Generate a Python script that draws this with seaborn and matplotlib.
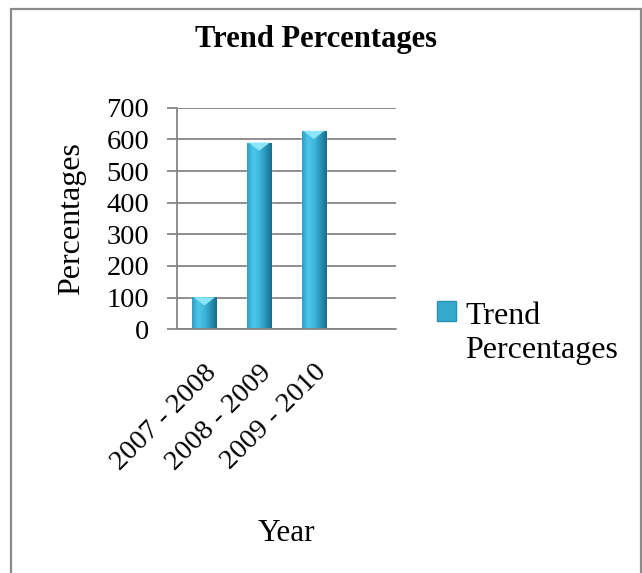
import numpy as np
import pandas as pd
import matplotlib
matplotlib.use("Agg")
import matplotlib.pyplot as plt
from matplotlib.colors import LinearSegmentedColormap
from matplotlib.patches import Rectangle, Polygon
from matplotlib.legend_handler import HandlerPatch
import seaborn as sns

# Chart data
years = ["2007 - 2008", "2008 - 2009", "2009 - 2010"]
trend_pct = [101, 590, 627]
y_ticks = [0, 100, 200, 300, 400, 500, 600, 700]
series_name = "Trend\nPercentages"

sns.set_theme(style="white")
plt.rcParams["font.family"] = ["Liberation Serif", "DejaVu Serif"]
plt.rcParams["text.color"] = "black"
plt.rcParams["axes.labelcolor"] = "black"

df = pd.DataFrame({"Year": years, "Percentages": trend_pct})

fig = plt.figure(figsize=(6.42, 5.73), dpi=100)
ax = fig.add_axes([0.2757, 0.4253, 0.3411, 0.3867])

base_color = "#35aacd"
sns.barplot(data=df, x="Year", y="Percentages", color=base_color,
            width=0.44, ax=ax, saturation=1, zorder=3)

# Shaded cylinder-like fill for every bar plus a light bevel on top
shade = LinearSegmentedColormap.from_list(
    "bar_shade", ["#2d9fc5", "#4ec6e8", "#3db7dc", "#2a93b6", "#1a6c88"])
grad = np.linspace(0, 1, 256).reshape(1, -1)
for patch in ax.patches:
    x0, y0 = patch.get_x(), patch.get_y()
    w, h = patch.get_width(), patch.get_height()
    im = ax.imshow(grad, cmap=shade, aspect="auto",
                   extent=(x0, x0 + w, y0, y0 + h), zorder=3.5)
    im.set_clip_path(patch)
    bevel = Polygon([(x0 + w * 0.06, y0 + h), (x0 + w * 0.94, y0 + h),
                     (x0 + w * 0.5, y0 + h - 26)],
                    closed=True, facecolor="#8be6f8", edgecolor="none",
                    zorder=4)
    ax.add_patch(bevel)

ax.set_xlim(-0.5, 3.5)
ax.set_ylim(0, 700)
ax.set_yticks(y_ticks)
ax.set_yticklabels([str(v) for v in y_ticks], fontsize=20.5)
ax.set_xticks(range(len(years)))
ax.set_xticklabels(years, fontsize=20.5, rotation=45, ha="right",
                   rotation_mode="anchor")

grid_color = "#868686"
ax.yaxis.grid(True, color=grid_color, linewidth=1.3, zorder=0)
ax.xaxis.grid(False)
for side in ["top", "right", "bottom"]:
    ax.spines[side].set_visible(False)
ax.spines["left"].set_color(grid_color)
ax.spines["left"].set_linewidth(1.3)
ax.tick_params(axis="y", which="major", left=True, length=7,
               width=1.3, color=grid_color, pad=13, labelcolor="black")
ax.tick_params(axis="x", bottom=False, pad=16, labelcolor="black")
ax.axhline(0, color=grid_color, linewidth=1.3, zorder=5, clip_on=False)

ax.set_ylabel("Percentages", fontsize=23, labelpad=15)
ax.set_xlabel("Year", fontsize=22.5, labelpad=32)

fig.text(0.492, 0.918, "Trend Percentages", fontsize=22,
         fontweight="bold", ha="center", va="baseline")


# Legend: swatch sits beside the first line of the two-line label
def top_swatch(legend, orig_handle, xdescent, ydescent, width, height,
               fontsize):
    return Rectangle((-xdescent, -ydescent + 0.7 * fontsize), width, height)


handle = Rectangle((0, 0), 1, 1, facecolor=base_color, edgecolor="#2a90b2")
leg = fig.legend([handle], [series_name], loc="upper left",
                 bbox_to_anchor=(0.680, 0.4728), frameon=False, fontsize=23,
                 handlelength=0.6, handleheight=0.6, handletextpad=0.3,
                 borderpad=0, borderaxespad=0,
                 handler_map={Rectangle: HandlerPatch(patch_func=top_swatch)})
for t in leg.get_texts():
    t.set_linespacing(1.22)

# Outer chart frame (open at the bottom)
frame = Rectangle((11.5 / 642, -0.05), (640.5 - 11.5) / 642, 1.05 - 9.5 / 573,
                  transform=fig.transFigure, fill=False,
                  edgecolor="#8c8c8c", linewidth=1.6, clip_on=False)
fig.patches.append(frame)

fig.savefig("out.png", dpi=100, facecolor="white")
